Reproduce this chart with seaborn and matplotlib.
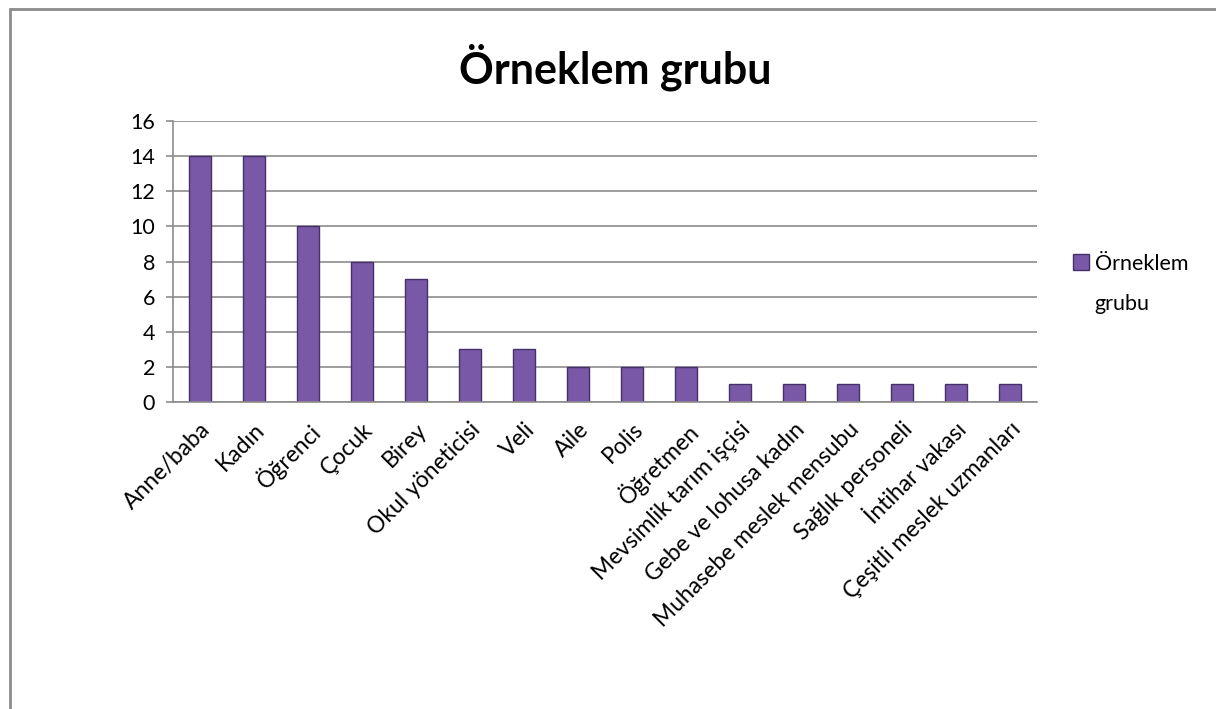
import numpy as np
import pandas as pd
import matplotlib
matplotlib.use('Agg')
import matplotlib.pyplot as plt
import seaborn as sns
from matplotlib.lines import Line2D

# Data
categories = ['Anne/baba', 'Kadın', 'Öğrenci', 'Çocuk', 'Birey', 'Okul yöneticisi',
              'Veli', 'Aile', 'Polis', 'Öğretmen', 'Mevsimlik tarım işçisi',
              'Gebe ve lohusa kadın', 'Muhasebe meslek mensubu', 'Sağlık personeli',
              'İntihar vakası', 'Çeşitli meslek uzmanları']
counts = [14, 14, 10, 8, 7, 3, 3, 2, 2, 2, 1, 1, 1, 1, 1, 1]
y_ticks = [0, 2, 4, 6, 8, 10, 12, 14, 16]
series_name = 'Örneklem grubu'

df = pd.DataFrame({'Grup': categories, 'Sayi': counts})

sns.set_theme(style='white')
plt.rcParams['font.family'] = ['Lato', 'DejaVu Sans']
plt.rcParams['text.color'] = 'black'
plt.rcParams['xtick.color'] = 'black'
plt.rcParams['ytick.color'] = 'black'

bar_color = '#7A58A8'
edge_color = '#45306A'
grid_color = '#8C8C8C'

fig = plt.figure(figsize=(12.16, 7.09), dpi=100)
ax = fig.add_axes([173 / 1216, 1 - 402 / 709, 864 / 1216, 281 / 709])

sns.barplot(data=df, x='Grup', y='Sayi', color=bar_color, width=0.42,
            edgecolor=edge_color, linewidth=1.0, saturation=1, ax=ax)

ax.set_xlim(-0.5, len(categories) - 0.5)
ax.set_ylim(0, 16)
ax.set_yticks(y_ticks)
ax.set_yticklabels([str(v) for v in y_ticks], fontsize=15.5)
ax.yaxis.grid(True, color=grid_color, linewidth=1.2)
ax.set_axisbelow(True)

# x ticks sit between categories, labels at category centres
ax.set_xticks(np.arange(len(categories)))
ax.set_xticklabels(categories, rotation=45, ha='right', rotation_mode='anchor', fontsize=16.5)
ax.set_xticks(np.arange(-0.5, len(categories)), minor=True)
ax.tick_params(axis='x', which='major', length=0, pad=12)
ax.tick_params(axis='x', which='minor', length=6, color=grid_color, width=1.2, direction='out')
ax.tick_params(axis='y', length=5, color=grid_color, width=1.2, direction='out', left=True, pad=8)
ax.set_xlabel('')
ax.set_ylabel('')

for side in ['top', 'right']:
    ax.spines[side].set_visible(False)
for side in ['left', 'bottom']:
    ax.spines[side].set_color(grid_color)
    ax.spines[side].set_linewidth(1.2)

fig.text(615 / 1216, 1 - 67 / 709, series_name, ha='center', va='center',
         fontsize=31, fontweight='bold')

# legend: label wraps onto two lines in the original
handle = Line2D([], [], marker='s', linestyle='none', markersize=11,
                markerfacecolor=bar_color, markeredgecolor=edge_color)
fig.legend([handle], ['Örneklem'], loc='center left',
           bbox_to_anchor=(1071 / 1216, 1 - 264 / 709), frameon=False,
           fontsize=15.5, handletextpad=0.2, handlelength=0.9, borderpad=0, borderaxespad=0)
fig.text(1094 / 1216, 1 - 304 / 709, 'grubu', ha='left', va='center', fontsize=15.5)

# chart frame (only top and left edges visible in the crop)
fig.add_artist(Line2D([9.5 / 1216, 9.5 / 1216], [0, 1 - 8.5 / 709],
                      transform=fig.transFigure, color='#8C8C8C', linewidth=2))
fig.add_artist(Line2D([9.5 / 1216, 1], [1 - 8.5 / 709, 1 - 8.5 / 709],
                      transform=fig.transFigure, color='#8C8C8C', linewidth=2))

fig.savefig('out.png', dpi=100)
